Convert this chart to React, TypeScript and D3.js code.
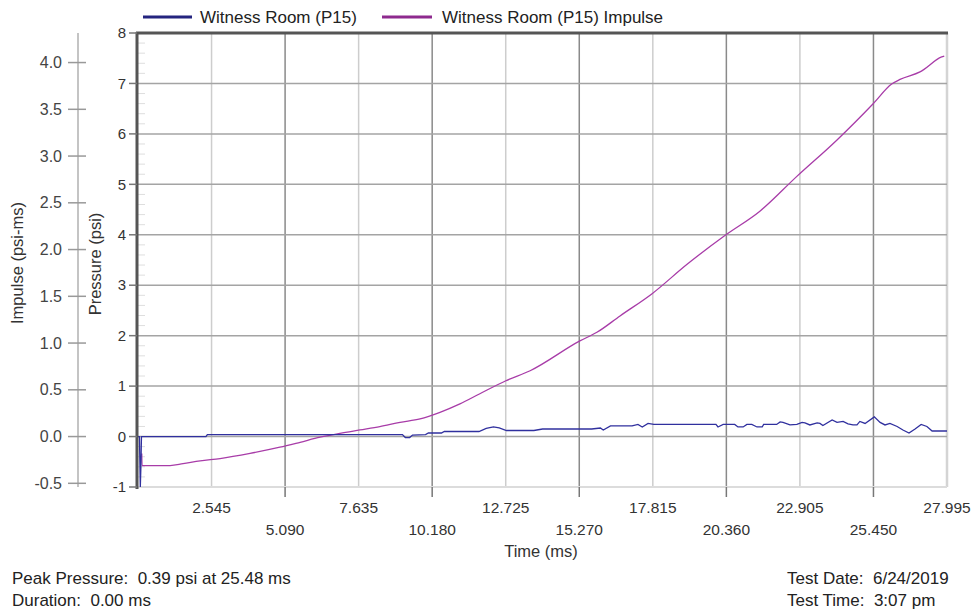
import React from "react";
import * as d3 from "d3";

// ---- data ----
const pressureTime = [0, 0.05, 0.08, 0.1, 0.12, 2.35, 2.4, 9.15, 9.25, 9.4, 9.5, 9.95, 10.05, 10.5, 10.6, 11.8, 12.05, 12.3, 12.5, 12.75, 13.7, 14.0, 15.7, 16.0, 16.1, 16.35, 17.1, 17.3, 17.45, 17.65, 17.85, 20.0, 20.07, 20.25, 20.65, 20.76, 20.94, 21.07, 21.24, 21.42, 21.6, 21.65, 22.1, 22.22, 22.32, 22.56, 22.8, 22.98, 23.08, 23.25, 23.5, 23.6, 23.7, 24.02, 24.19, 24.4, 24.57, 24.74, 24.88, 24.98, 25.16, 25.48, 25.68, 25.85, 26.02, 26.27, 26.47, 26.68, 26.89, 27.1, 27.3, 27.48, 27.995];
const pressureValues = [0, 0, -1.0, -0.6, 0, 0, 0.04, 0.04, -0.02, -0.02, 0.03, 0.04, 0.07, 0.07, 0.1, 0.1, 0.16, 0.19, 0.17, 0.12, 0.12, 0.15, 0.15, 0.17, 0.13, 0.21, 0.21, 0.24, 0.19, 0.26, 0.24, 0.24, 0.19, 0.24, 0.24, 0.19, 0.19, 0.24, 0.24, 0.19, 0.19, 0.24, 0.24, 0.29, 0.28, 0.23, 0.24, 0.28, 0.27, 0.23, 0.27, 0.26, 0.22, 0.33, 0.28, 0.3, 0.25, 0.23, 0.23, 0.3, 0.26, 0.39, 0.28, 0.23, 0.26, 0.2, 0.13, 0.07, 0.15, 0.24, 0.2, 0.11, 0.11];

const impulseTime = [0.13, 0.14, 1.11, 1.56, 2.15, 2.84, 3.88, 4.91, 5.61, 6.3, 6.99, 7.68, 8.37, 9.07, 9.76, 10.45, 11.14, 11.83, 12.73, 13.57, 15.29, 15.88, 16.68, 17.79, 18.99, 20.31, 21.52, 22.79, 24.18, 25.44, 26.08, 26.37, 27.06, 27.81, 27.9];
const impulseValues = [-0.18, -0.31, -0.31, -0.29, -0.26, -0.235, -0.18, -0.114, -0.061, -0.007, 0.035, 0.071, 0.107, 0.152, 0.189, 0.259, 0.349, 0.458, 0.597, 0.704, 1.023, 1.115, 1.29, 1.528, 1.84, 2.15, 2.41, 2.78, 3.17, 3.56, 3.77, 3.82, 3.90, 4.06, 4.07];

const timeTicks = [2.545, 5.09, 7.635, 10.18, 12.725, 15.27, 17.815, 20.36, 22.905, 25.45, 27.995];
const pressureTicks = [-1, 0, 1, 2, 3, 4, 5, 6, 7, 8];
const impulseTicks = [-0.5, 0, 0.5, 1, 1.5, 2, 2.5, 3, 3.5, 4];
const seriesNames = ["Witness Room (P15)", "Witness Room (P15) Impulse"];
const infoLeft = ["Peak Pressure:  0.39 psi at 25.48 ms", "Duration:  0.00 ms"];
const infoRight = ["Test Date:  6/24/2019", "Test Time:  3:07 pm"];

// ---- layout ----
const W = 974, H = 609;
const L = 138, R = 947, T = 33, B = 487;
const FONT = "'Liberation Sans', Arial, sans-serif";

export default function App() {
  const x = d3.scaleLinear().domain([0, 27.995]).range([L, R]);
  const yP = d3.scaleLinear().domain([-1, 8]).range([B, T]);
  const zeroY = yP(0);
  const unit = 93.5;
  const yI = d3.scaleLinear().domain([-(B - zeroY) / unit, (zeroY - T) / unit]).range([B, T]);

  const pLine = d3.line<number>().x((_, i) => x(pressureTime[i])).y((v) => yP(v));
  const iLine = d3.line<number>().x((_, i) => x(impulseTime[i])).y((v) => yI(v)).curve(d3.curveMonotoneX);

  const minor = d3.range(-1, 8, 0.2).filter((v) => Math.abs(v - Math.round(v)) > 0.01);
  const fmt = d3.format(".3f");
  const fmtI = (v: number) => d3.format(".1f")(v).replace("\u2212", "-");

  return (
    <svg width={W} height={H} style={{ position: "absolute", left: 0, top: 0, background: "#fff" }} fontFamily={FONT}>
      <defs>
        <clipPath id="plot"><rect x={L} y={T} width={R - L} height={B - T} /></clipPath>
      </defs>
      <rect x={0} y={0} width={W} height={H} fill="#fff" />

      {/* legend */}
      <line x1={143} x2={192} y1={17} y2={17} stroke="#24247f" strokeWidth={3} />
      <text x={200} y={23} fontSize={17} fill="#222">{seriesNames[0]}</text>
      <line x1={382} x2={432} y1={17} y2={17} stroke="#8e2a8e" strokeWidth={3} />
      <text x={442} y={23} fontSize={17} fill="#222">{seriesNames[1]}</text>

      {/* vertical grid */}
      {timeTicks.map((t, i) => (
        <line key={"vg" + i} x1={x(t)} x2={x(t)} y1={T} y2={B} stroke={i === timeTicks.length - 1 ? "#d4d4d4" : i % 2 === 1 ? "#8a8a8a" : "#cdcdcd"} strokeWidth={i === timeTicks.length - 1 ? 2.5 : 1.5} />
      ))}
      {/* horizontal grid */}
      {pressureTicks.map((p) => (
        p === 8 ? null :
        <line key={"hg" + p} x1={L} x2={R} y1={yP(p)} y2={yP(p)} stroke={p === -1 ? "#dcdcdc" : "#a4a4a4"} strokeWidth={p === -1 ? 2 : 1.5} />
      ))}
      {/* minor ticks inside */}
      {minor.map((v, i) => (
        <line key={"mt" + i} x1={L} x2={L + 7} y1={yP(v)} y2={yP(v)} stroke="#dedede" strokeWidth={1} />
      ))}
      {/* top border */}
      <line x1={L - 2} x2={R + 1} y1={T} y2={T} stroke="#555" strokeWidth={3} />

      {/* series */}
      <g clipPath="url(#plot)">
        <path d={iLine(impulseValues) || ""} fill="none" stroke="#a83ca8" strokeWidth={1.3} />
        <path d={pLine(pressureValues) || ""} fill="none" stroke="#30309e" strokeWidth={1.3} />
      </g>

      {/* left pressure axis */}
      <line x1={L - 1} x2={L - 1} y1={T - 1} y2={B + 2} stroke="#555" strokeWidth={3} />
      {pressureTicks.map((p) => (
        <g key={"pt" + p}>
          <line x1={L - 9} x2={L - 1} y1={yP(p)} y2={yP(p)} stroke="#777" strokeWidth={1.5} />
          <text x={L - 12} y={yP(p)} dy="0.35em" textAnchor="end" fontSize={15} fill="#333">{p}</text>
        </g>
      ))}

      {/* impulse axis */}
      <line x1={78} x2={78} y1={T} y2={B} stroke="#b0b0b0" strokeWidth={1.5} />
      {impulseTicks.map((v) => (
        <g key={"it" + v}>
          <line x1={68} x2={86} y1={yI(v)} y2={yI(v)} stroke="#999" strokeWidth={1.5} />
          <text x={62} y={yI(v)} dy="0.35em" textAnchor="end" fontSize={16} fill="#444">{fmtI(v)}</text>
        </g>
      ))}
      <text transform={`translate(23,${263}) rotate(-90)`} textAnchor="middle" fontSize={16.5} fill="#333">Impulse (psi-ms)</text>
      <text transform={`translate(101,${264}) rotate(-90)`} textAnchor="middle" fontSize={16.5} fill="#333">Pressure (psi)</text>

      {/* x axis */}
      {timeTicks.map((t, i) => (
        <g key={"xt" + i}>
          {i % 2 === 1 && <line x1={x(t)} x2={x(t)} y1={B} y2={B + 10} stroke="#777" strokeWidth={1.5} />}
          <text x={x(t)} y={i % 2 === 0 ? 513 : 535} textAnchor="middle" fontSize={15.5} fill="#333">{fmt(t)}</text>
        </g>
      ))}
      <text x={541} y={557} textAnchor="middle" fontSize={16.5} fill="#333">Time (ms)</text>

      {/* info */}
      {infoLeft.map((s, i) => (
        <text key={"il" + i} x={12} y={584 + i * 22} fontSize={17} fill="#222" style={{ whiteSpace: "pre" }}>{s}</text>
      ))}
      {infoRight.map((s, i) => (
        <text key={"ir" + i} x={787} y={584 + i * 22} fontSize={17} fill="#222" style={{ whiteSpace: "pre" }}>{s}</text>
      ))}
    </svg>
  );
}
